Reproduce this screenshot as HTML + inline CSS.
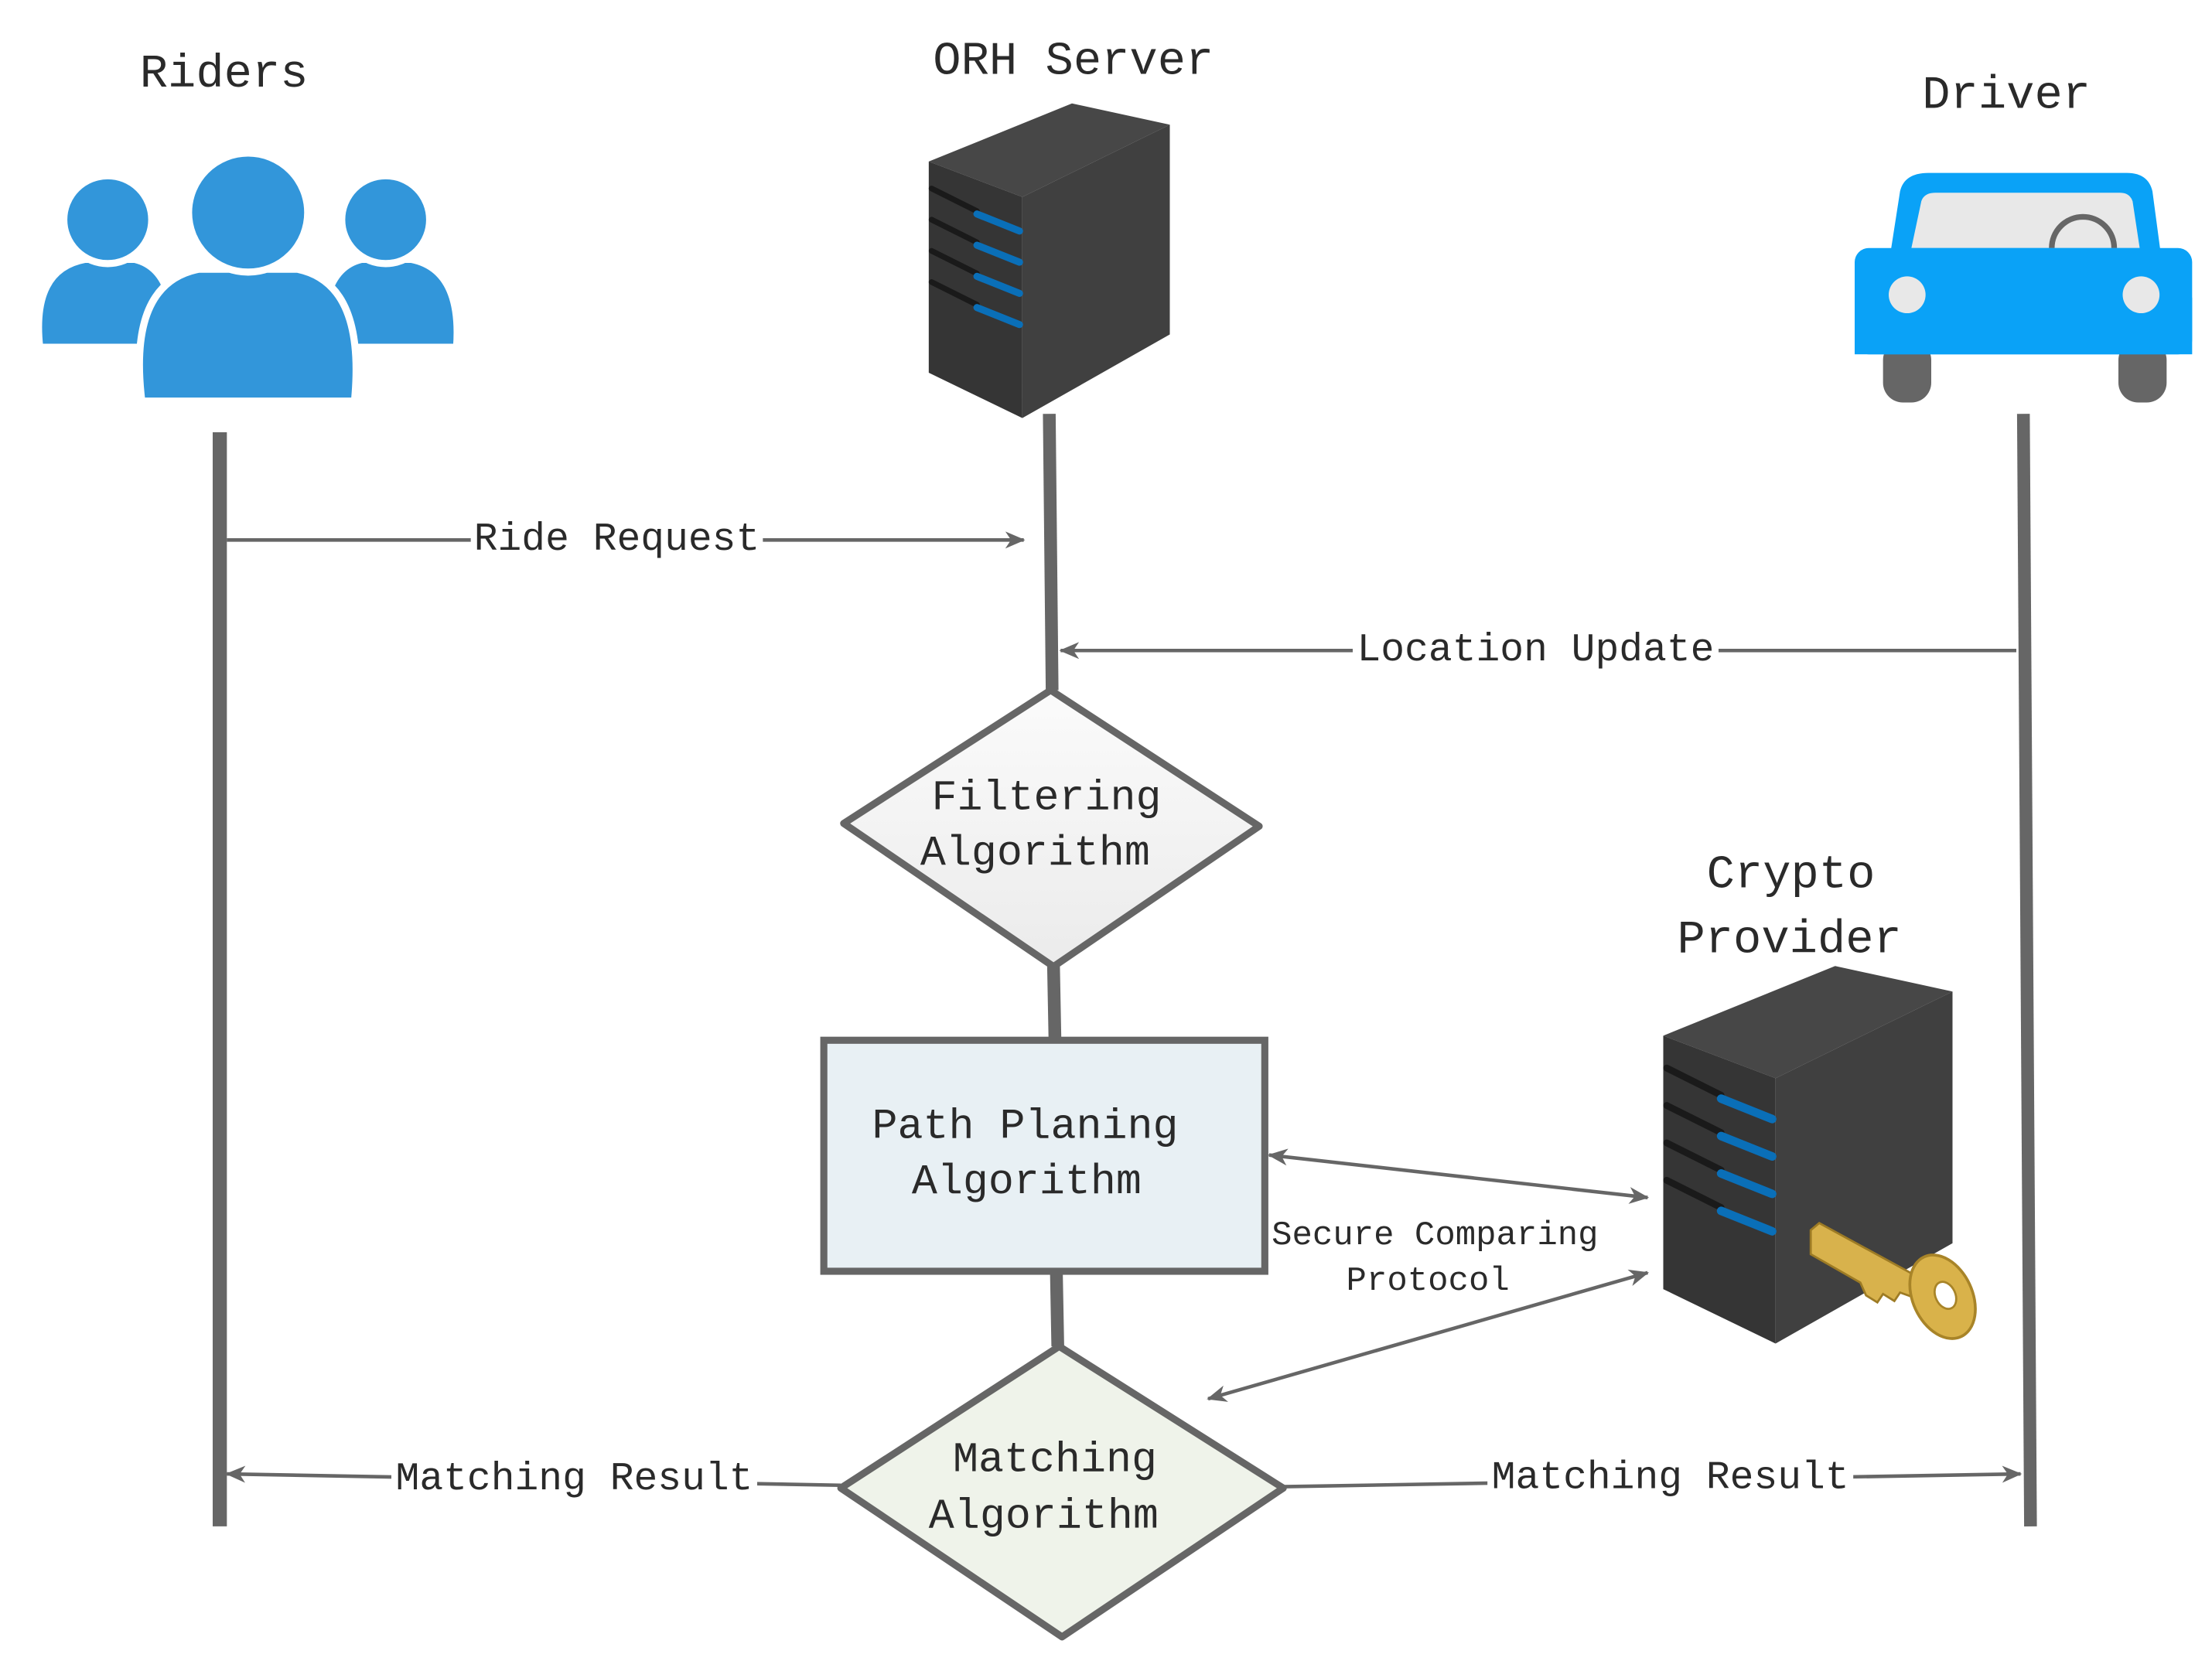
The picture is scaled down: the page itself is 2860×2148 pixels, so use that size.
<!DOCTYPE html>
<html><head><meta charset="utf-8"><style>
html,body{margin:0;padding:0;background:#fff;}
svg{display:block;}
text{font-family:"Liberation Mono","Noto Sans CJK SC",monospace;fill:#2a2a2a;}
</style></head><body>
<svg width="2860" height="2148" viewBox="0 0 1560 1172" preserveAspectRatio="none" xmlns="http://www.w3.org/2000/svg">
<defs>
<linearGradient id="gf" x1="0" y1="0" x2="0" y2="1"><stop offset="0" stop-color="#fbfbfb"/><stop offset="1" stop-color="#ebebeb"/></linearGradient>
<marker id="ar" markerWidth="14" markerHeight="12" refX="13" refY="6" orient="auto" markerUnits="userSpaceOnUse"><path d="M0,0 L14,6 L0,12 L4,6 Z" fill="#666"/></marker>
<marker id="al" markerWidth="14" markerHeight="12" refX="1" refY="6" orient="auto" markerUnits="userSpaceOnUse"><path d="M14,0 L0,6 L14,12 L10,6 Z" fill="#666"/></marker>
<g id="srv">
<polygon points="655,114 756,73 825,88 721,139" fill="#474747"/>
<polygon points="655,114 721,139 721,295 655,263" fill="#353535"/>
<polygon points="721,139 825,88 825,236 721,295" fill="#404040"/>
<g stroke-linecap="round">
<line x1="657" y1="133" x2="689" y2="149" stroke="#1a1a1a" stroke-width="4"/>
<line x1="689" y1="151" x2="719" y2="163" stroke="#0a6fb8" stroke-width="5"/>
<line x1="657" y1="155" x2="689" y2="171" stroke="#1a1a1a" stroke-width="4"/>
<line x1="689" y1="173" x2="719" y2="185" stroke="#0a6fb8" stroke-width="5"/>
<line x1="657" y1="177" x2="689" y2="193" stroke="#1a1a1a" stroke-width="4"/>
<line x1="689" y1="195" x2="719" y2="207" stroke="#0a6fb8" stroke-width="5"/>
<line x1="657" y1="199" x2="689" y2="215" stroke="#1a1a1a" stroke-width="4"/>
<line x1="689" y1="217" x2="719" y2="229" stroke="#0a6fb8" stroke-width="5"/>
</g>
</g>
</defs>

<text x="158" y="61" font-size="33" text-anchor="middle">Riders</text>
<text x="757" y="52" font-size="33" text-anchor="middle">ORH Server</text>
<text x="1415" y="76" font-size="33" text-anchor="middle">Driver</text>
<text x="1263" y="626" font-size="33" text-anchor="middle">Crypto</text>
<text x="1262" y="672" font-size="33" text-anchor="middle">Provider</text>

<g fill="#3296da" stroke="#fff" stroke-width="5">
<path d="M28,245 Q22,190 60,183 L95,183 Q125,190 122,245 Z"/>
<circle cx="76" cy="155" r="31"/>
<path d="M228,245 Q225,190 255,183 L290,183 Q326,190 322,245 Z"/>
<circle cx="272" cy="155" r="31"/>
<path d="M100,283 Q90,200 140,190 L210,190 Q258,200 250,283 Z"/>
<circle cx="175" cy="150" r="42"/>
</g>

<rect x="1328" y="240" width="34" height="44" rx="14" fill="#666"/>
<rect x="1494" y="240" width="34" height="44" rx="14" fill="#666"/>
<path d="M1333,180 L1340,135 Q1343,122 1360,122 L1500,122 Q1515,122 1518,135 L1524,180 Z" fill="#0aa2f7"/>
<path d="M1348,175 L1355,142 Q1357,136 1365,136 L1495,136 Q1502,136 1504,142 L1509,175 Z" fill="#e8e8e8"/>
<path d="M1447,175 a22,22 0 0 1 44,0" fill="none" stroke="#666" stroke-width="4"/>
<rect x="1308" y="175" width="238" height="75" rx="10" fill="#0aa2f7"/>
<rect x="1308" y="210" width="238" height="40" fill="#0aa2f7"/>
<circle cx="1345" cy="208" r="13" fill="#e8e8e8"/>
<circle cx="1510" cy="208" r="13" fill="#e8e8e8"/>

<use href="#srv"/>
<use href="#srv" transform="translate(387,594) scale(1.2)"/>

<g>
<path d="M1277,868 L1283,863 L1360,905 L1354,917 L1340,912 L1336,918 L1328,913 L1324,919 L1316,914 L1312,905 L1277,885 Z" fill="#d8b24c" stroke="#9d7b24" stroke-width="1.5"/>
<ellipse cx="1370" cy="915" rx="21" ry="31" transform="rotate(-25 1370 915)" fill="#d9b24a" stroke="#a88428" stroke-width="2"/>
<ellipse cx="1372" cy="914" rx="7" ry="10" transform="rotate(-25 1372 914)" fill="#fff" stroke="#a88428" stroke-width="1.5"/>
</g>

<g stroke="#666" fill="none">
<line x1="155" y1="305" x2="155" y2="1077" stroke-width="10"/>
<line x1="740" y1="292" x2="742" y2="487" stroke-width="9"/>
<line x1="1427" y1="292" x2="1432" y2="1077" stroke-width="9"/>
<line x1="743" y1="682" x2="744" y2="734" stroke-width="9"/>
<line x1="745" y1="897" x2="746" y2="950" stroke-width="9"/>
</g>

<g stroke="#666" stroke-width="2.5" fill="none">
<line x1="160" y1="381" x2="722" y2="381" marker-end="url(#ar)"/>
<line x1="1422" y1="459" x2="748" y2="459" marker-end="url(#ar)"/>
<line x1="593" y1="1048" x2="160" y2="1040" marker-end="url(#ar)"/>
<line x1="905" y1="1049" x2="1425" y2="1040" marker-end="url(#ar)"/>
<line x1="895" y1="815" x2="1162" y2="845" marker-start="url(#al)" marker-end="url(#ar)"/>
<line x1="852" y1="987" x2="1162" y2="898" marker-start="url(#al)" marker-end="url(#ar)"/>
</g>
<g font-size="28" text-anchor="middle">
<rect x="332" y="364" width="206" height="34" fill="#fff"/>
<text x="435" y="388">Ride Request</text>
<rect x="954" y="442" width="258" height="34" fill="#fff"/>
<text x="1083" y="466">Location Update</text>
<rect x="276" y="1024" width="258" height="34" fill="#fff"/>
<text x="405" y="1051">Matching Result</text>
<rect x="1049" y="1023" width="258" height="34" fill="#fff"/>
<text x="1178" y="1050">Matching Result</text>
</g>
<text x="1012" y="878" font-size="24" text-anchor="middle">Secure Comparing</text>
<text x="1007" y="910" font-size="24" text-anchor="middle">Protocol</text>

<polygon points="741,487 888,583 743,682 595,581" fill="url(#gf)" stroke="#666" stroke-width="5" stroke-linejoin="round"/>
<text x="738" y="571" font-size="30" text-anchor="middle">Filtering</text>
<text x="730" y="610" font-size="30" text-anchor="middle">Algorithm</text>

<rect x="581" y="734" width="311" height="163" fill="#e8f0f4" stroke="#666" stroke-width="5"/>
<text x="723" y="803" font-size="30" text-anchor="middle">Path Planing</text>
<text x="724" y="842" font-size="30" text-anchor="middle">Algorithm</text>

<polygon points="747,950 905,1050 749,1155 593,1050" fill="#eff3ea" stroke="#666" stroke-width="5" stroke-linejoin="round"/>
<text x="744" y="1038" font-size="30" text-anchor="middle">Matching</text>
<text x="736" y="1078" font-size="30" text-anchor="middle">Algorithm</text>
</svg>
</body></html>
